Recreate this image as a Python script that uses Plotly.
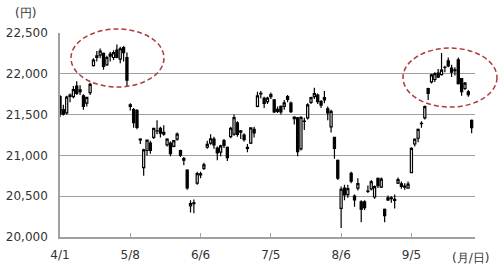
import plotly.graph_objects as go

dates = ["4/1","4/2","4/3","4/4","4/5","4/8","4/9","4/10","4/11","4/12",
         "4/15","4/16","4/17","4/18","4/19","4/22","4/23","4/24","4/25","4/26",
         "5/7","5/8","5/9","5/10","5/13","5/14","5/15","5/16","5/17","5/20",
         "5/21","5/22","5/23","5/24","5/27","5/28","5/29","5/30","5/31",
         "6/3","6/4","6/5","6/6","6/7","6/10","6/11","6/12","6/13","6/14",
         "6/17","6/18","6/19","6/20","6/21","6/24","6/25","6/26","6/27","6/28",
         "7/1","7/2","7/3","7/4","7/5","7/8","7/9","7/10","7/11","7/12",
         "7/16","7/17","7/18","7/19","7/22","7/23","7/24","7/25","7/26",
         "7/29","7/30","7/31",
         "8/1","8/2","8/5","8/6","8/7","8/8","8/9","8/13","8/14","8/15","8/16",
         "8/19","8/20","8/21","8/22","8/23","8/26","8/27","8/28","8/29","8/30",
         "9/2","9/3","9/4","9/5","9/6","9/9","9/10","9/11","9/12","9/13",
         "9/17","9/18","9/19","9/20","9/24","9/25","9/26","9/27","9/30",
         "10/1","10/2","10/3"]

open_ = [21720,21560,21520,21740,21720,21850,21780,21730,21640,21770,
         22100,22200,22230,22250,22110,22240,22200,22290,22180,22320,
         22200,21620,21560,21550,21200,20850,21060,21150,21220,21300,
         21330,21260,21130,21150,21110,21200,21060,20960,20820,
         20380,20420,20660,20760,20840,21100,21150,21200,21090,21040,
         21180,21100,21230,21260,21400,21300,21250,21100,21150,21320,
         21600,21760,21700,21660,21720,21680,21540,21600,21600,21720,
         21640,21450,21460,21080,21420,21460,21650,21720,21740,
         21660,21680,21570,
         21350,21220,20940,20350,20600,20520,20780,20500,20600,20430,20430,
         20560,20590,20490,20720,20610,20340,20480,20470,20450,20660,
         20650,20610,20600,20790,21140,21210,21390,21460,21820,21900,
         21930,22010,21990,22080,22160,22070,22040,22170,21940,
         21820,21780,21430]

high = [21740,21620,21730,21760,21850,21910,21860,21750,21720,21890,
        22190,22280,22310,22260,22220,22270,22290,22360,22330,22340,
        22260,21640,21580,21570,21210,21080,21190,21180,21340,21430,
        21350,21370,21210,21170,21190,21280,21070,20980,20830,
        20450,20460,20800,20800,20910,21180,21260,21230,21110,21130,
        21200,21110,21350,21500,21420,21310,21270,21140,21340,21350,
        21780,21790,21720,21720,21770,21690,21600,21610,21680,21740,
        21660,21480,21470,21480,21460,21640,21720,21830,21760,
        21680,21790,21600,
        21560,21230,20950,20620,20640,20640,20800,20520,20720,20450,20450,
        20630,20700,20630,20730,20730,20350,20510,20500,20520,20730,
        20680,20660,20680,21100,21200,21330,21420,21610,21830,22000,
        22020,22060,22255,22100,22200,22110,22080,22200,21950,
        21900,21800,21440]

low = [21470,21490,21500,21650,21700,21740,21740,21560,21600,21740,
       22090,22150,22190,22050,22100,22150,22170,22190,22130,22150,
       21840,21550,21340,21320,21140,20751,21000,21020,21200,21260,
       21220,21240,21110,20990,21100,21180,20980,20880,20580,
       20300,20290,20640,20720,20820,21080,21130,21080,20940,20990,
       21090,20930,21210,21240,21230,21200,21170,21040,21140,21220,
       21590,21700,21580,21630,21690,21520,21520,21500,21560,21650,
       21520,21380,20990,21060,21310,21440,21630,21690,21630,
       21580,21640,21430,
       21280,20960,20700,20110,20450,20480,20660,20370,20570,20180,20330,
       20540,20570,20470,20600,20600,20180,20440,20420,20350,20650,
       20590,20580,20590,20780,21110,21160,21340,21440,21680,21880,
       21900,21950,21980,22020,22080,21960,21980,21870,21730,
       21800,21720,21270]

close = [21509,21505,21713,21724,21807,21761,21802,21600,21711,21870,
         22169,22221,22277,22090,22200,22217,22259,22200,22307,22258,
         21923,21602,21402,21344,21191,21067,21188,21062,21330,21301,
         21272,21283,21200,21020,21182,21260,21003,20942,20601,
         20410,20408,20776,20774,20884,21134,21204,21129,21032,21116,
         21124,20972,21333,21462,21258,21285,21193,21086,21338,21275,
         21729,21754,21638,21702,21746,21534,21565,21533,21643,21685,
         21535,21469,21046,21466,21416,21620,21709,21756,21658,
         21616,21709,21521,
         21540,21087,20720,20585,20516,20593,20684,20455,20655,20340,20360,
         20563,20677,20618,20628,20710,20261,20456,20479,20460,20704,
         20620,20625,20649,21085,21199,21318,21392,21597,21759,21988,
         22001,21960,22044,22079,22098,22020,22048,21878,21780,
         21885,21745,21341]

tick_labels = ["4/1", "5/8", "6/6", "7/5", "8/6", "9/5"]
y_ticks = [20000, 20500, 21000, 21500, 22000, 22500]

FONT = "DejaVu Sans"
GRID = "#a0a0a0"

fig = go.Figure(go.Candlestick(
    x=dates, open=open_, high=high, low=low, close=close,
    increasing=dict(line=dict(color="black", width=1.2), fillcolor="white"),
    decreasing=dict(line=dict(color="black", width=1.2), fillcolor="black"),
    whiskerwidth=0, showlegend=False, hoverinfo="skip",
))

fig.update_layout(
    width=500, height=267, autosize=False,
    margin=dict(l=60, r=25, t=33, b=30, pad=0),
    paper_bgcolor="white", plot_bgcolor="white",
    boxgap=0.1,
    font=dict(family=FONT, size=12, color="#333333"),
    xaxis=dict(
        type="category", range=[0, 124], automargin=False,
        tickmode="array", tickvals=tick_labels, ticktext=tick_labels,
        ticks="inside", ticklen=4, tickcolor=GRID, tickwidth=1,
        showline=True, linecolor=GRID, linewidth=1.5,
        showgrid=False, zeroline=False,
        rangeslider=dict(visible=False),
        tickfont=dict(family=FONT, size=12, color="#333333"),
        ticklabelstandoff=6,
    ),
    yaxis=dict(
        range=[20000, 22500], tickmode="array", tickvals=y_ticks,
        automargin=False,
        tickformat=",d", showgrid=True, gridcolor=GRID, gridwidth=1.2,
        showline=True, linecolor=GRID, linewidth=1.5, zeroline=False,
        ticks="", tickfont=dict(family=FONT, size=12, color="#333333"),
        ticklabelstandoff=8,
    ),
    shapes=[
        dict(type="circle", xref="paper", yref="paper",
             x0=0.0265, x1=0.2506, y0=0.735, y1=1.0196,
             line=dict(color="#b03a3a", width=1.5, dash="5px,3px")),
        dict(type="circle", xref="paper", yref="paper",
             x0=0.8265, x1=1.053, y0=0.637, y1=0.926,
             line=dict(color="#b03a3a", width=1.5, dash="5px,3px")),
    ],
    annotations=[
        dict(text="(円)", xref="paper", yref="paper", x=-0.084, y=1.098,
             showarrow=False, xanchor="center", yanchor="middle",
             font=dict(family=FONT, size=12, color="#333333")),
        dict(text="(月/日)", xref="paper", yref="paper", x=0.988, y=-0.103,
             showarrow=False, xanchor="center", yanchor="middle",
             font=dict(family=FONT, size=12, color="#333333")),
    ],
)

fig.write_html("out.html")
